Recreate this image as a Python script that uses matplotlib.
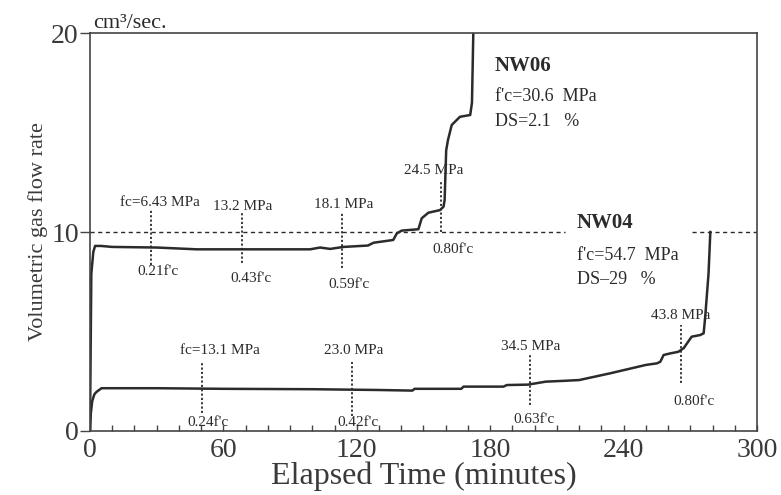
import matplotlib
matplotlib.use("Agg")
import matplotlib.pyplot as plt
from matplotlib.ticker import MultipleLocator

plt.rcParams['font.family'] = ['Liberation Serif', 'DejaVu Serif']

# ==== Data ====
# NW06 : elapsed time (min) vs volumetric gas flow rate (cm3/sec)
nw06_t = [0, 0.6, 1.5, 2.3, 5, 10, 30, 48, 60, 99, 103.5, 108, 114, 125, 127.5,
          136.4, 138, 140.2, 147.7, 149.2, 152.2, 157.4, 159, 159.5, 160.2, 161,
          162.7, 166.4, 171, 171.8, 172.4]
nw06_q = [0, 7.9, 9.0, 9.3, 9.3, 9.25, 9.22, 9.13, 9.13, 9.13, 9.22, 9.15, 9.25,
          9.32, 9.46, 9.6, 9.93, 10.07, 10.14, 10.69, 10.97, 11.1, 11.27, 11.6,
          14.1, 14.62, 15.38, 15.79, 15.88, 16.5, 20.0]

# NW04
nw04_t = [0, 0.4, 1.0, 2.0, 3.0, 5.2, 30, 60, 100, 130, 145, 146, 167, 168, 186,
          187.5, 197, 205, 213, 220, 234, 250, 255, 256.5, 258, 261, 264.6, 267,
          270.6, 274.4, 276, 276.7, 278.2, 279]
nw04_q = [0, 0.9, 1.5, 1.85, 1.97, 2.15, 2.15, 2.12, 2.1, 2.06, 2.03, 2.12, 2.12,
          2.23, 2.23, 2.31, 2.33, 2.48, 2.52, 2.56, 2.9, 3.32, 3.4, 3.48, 3.82,
          3.9, 3.98, 4.16, 4.74, 4.82, 4.91, 5.74, 7.92, 10.0]

# loading stages marked on each curve
nw06_mark_t = [27.4, 68.5, 113.2, 157.7]
nw06_mark_stress = ["fc=6.43 MPa", "13.2 MPa", "18.1 MPa", "24.5 MPa"]
nw06_mark_ratio = ["0.21f'c", "0.43f'c", "0.59f'c", "0.80f'c"]

nw04_mark_t = [50.5, 117.7, 198, 265.7]
nw04_mark_stress = ["fc=13.1 MPa", "23.0 MPa", "34.5 MPa", "43.8 MPa"]
nw04_mark_ratio = ["0.24f'c", "0.42f'c", "0.63f'c", "0.80f'c"]

x_ticks = [0, 60, 120, 180, 240, 300]
y_ticks = [0, 10, 20]

# ==== Layout of the marker annotations (lo, hi, top label xy, bottom label xy) ====
nw06_layout = [
    (8.34, 11.15, (31.3, 11.46), (30.4, 8.0)),
    (8.44, 10.95, (68.6, 11.26), (72.2, 7.64)),
    (8.2, 11.0, (113.9, 11.4), (116.5, 7.34)),
    (10.0, 12.6, (154.4, 13.07), (163.4, 9.1)),
]
nw04_layout = [
    (0.89, 3.48, (58.5, 4.07), (53.2, 0.45)),
    (0.75, 3.48, (118.4, 4.07), (120.6, 0.45)),
    (1.31, 3.82, (198, 4.27), (199.7, 0.6)),
    (2.41, 5.33, (265.6, 5.78), (271.5, 1.46)),
]

ink = '#2b2b2b'

fig = plt.figure(figsize=(7.81, 4.95), dpi=100)
ax = fig.add_axes([0.1152, 0.1293, 0.8541, 0.804])

ax.plot(nw06_t, nw06_q, color=ink, lw=1.8, solid_joinstyle='round')
ax.plot(nw04_t, nw04_q, color=ink, lw=1.8, solid_joinstyle='round')

# 10 cm3/sec reference line (broken around the NW04 label)
ax.hlines(10, 0, 213.7, colors=ink, linestyles=(0, (3, 2.5)), lw=1)
ax.hlines(10, 270.6, 300, colors=ink, linestyles=(0, (3, 2.5)), lw=1)

for marks, stress, ratio, lay in [(nw06_mark_t, nw06_mark_stress, nw06_mark_ratio, nw06_layout),
                                  (nw04_mark_t, nw04_mark_stress, nw04_mark_ratio, nw04_layout)]:
    for t, s, r, (lo, hi, top_xy, bot_xy) in zip(marks, stress, ratio, lay):
        ax.vlines(t, lo, hi, colors=ink, linestyles=(0, (1.2, 1.2)), lw=1.3)
        ax.text(top_xy[0], top_xy[1], s, ha='center', va='center', fontsize=11, color=ink)
        ax.text(bot_xy[0], bot_xy[1], r, ha='center', va='center', fontsize=11, color=ink)

# specimen labels
ax.text(182.2, 18.34, "NW06", fontsize=15, fontweight='bold', color=ink, va='center')
ax.text(182.2, 16.83, "f'c=30.6  MPa", fontsize=13, color=ink, va='center')
ax.text(182.2, 15.53, "DS=2.1   %", fontsize=13, color=ink, va='center')
ax.text(219.0, 10.45, "NW04", fontsize=15, fontweight='bold', color=ink, va='center')
ax.text(219.0, 8.84, "f'c=54.7  MPa", fontsize=13, color=ink, va='center')
ax.text(219.0, 7.59, "DS\u201329   %", fontsize=13, color=ink, va='center')

ax.text(0.005, 1.0, "cm\u00b3/sec.", transform=ax.transAxes, fontsize=16,
        color=ink, va='bottom', ha='left')

ax.set_xlim(0, 300)
ax.set_ylim(0, 20)
ax.set_xticks(x_ticks)
ax.set_yticks(y_ticks)
ax.xaxis.set_minor_locator(MultipleLocator(10))
ax.tick_params(axis='x', which='both', direction='in', length=4, width=1,
               color='#444444', labelsize=20, labelcolor='#3a3a3a', pad=5)
ax.tick_params(axis='y', which='major', direction='out', length=7, width=1,
               color='#444444', labelsize=20, labelcolor='#3a3a3a', pad=1)
ax.tick_params(axis='y', which='minor', left=False)

for sp in ax.spines.values():
    sp.set_color('#444444')
    sp.set_linewidth(1.2)

ax.set_xlabel("Elapsed Time (minutes)", fontsize=23, color='#3a3a3a', labelpad=-1)
ax.set_ylabel("Volumetric gas flow rate", fontsize=16, color='#3a3a3a', labelpad=2)

fig.savefig("out.png", dpi=100)
